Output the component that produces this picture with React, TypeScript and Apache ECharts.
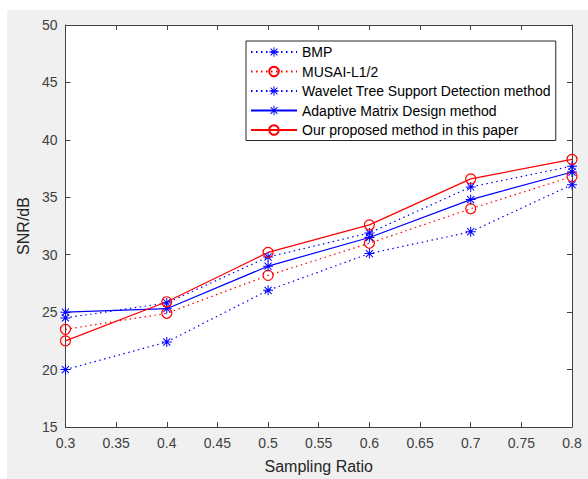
import React, { useEffect, useRef } from "react";
import * as echarts from "echarts";

const xValues = [0.3, 0.4, 0.5, 0.6, 0.7, 0.8];
const seriesNames = [
  "BMP",
  "MUSAI-L1/2",
  "Wavelet Tree Support Detection method",
  "Adaptive Matrix Design method",
  "Our proposed method in this paper",
];
const bmp = [20.0, 22.4, 26.9, 30.1, 32.0, 36.1];
const musai = [23.5, 24.9, 28.2, 31.0, 34.0, 36.8];
const wavelet = [24.5, 25.8, 29.8, 31.9, 35.9, 37.7];
const adaptive = [25.0, 25.3, 29.0, 31.5, 34.8, 37.2];
const ours = [22.5, 25.9, 30.2, 32.6, 36.6, 38.3];

const ASTERISK =
  "path://M9 0L11 0L11 20L9 20Z M0 9L20 9L20 11L0 11Z " +
  "M3.64 2.22L17.78 16.36L16.36 17.78L2.22 3.64Z " +
  "M16.36 2.22L17.78 3.64L3.64 17.78L2.22 16.36Z";

const FONT = "'Liberation Sans', Arial, Helvetica, sans-serif";
const AXIS = "#404040";

function pairs(vals: number[]) {
  return xValues.map((x, i) => [x, vals[i]]);
}

export default function App() {
  const ref = useRef<HTMLDivElement>(null);
  useEffect(() => {
    if (!ref.current) return;
    const chart = echarts.init(ref.current, undefined, { renderer: "svg" });
    const blue = "#0000ff";
    const red = "#ff0000";
    const dotted: any = [1.5, 3.5];
    const mk = (name: string, data: number[], color: string, star: boolean, dot: boolean) => ({
      name,
      type: "line",
      data: pairs(data),
      symbol: star ? ASTERISK : "circle",
      symbolSize: star ? 10 : 10,
      showSymbol: true,
      itemStyle: star
        ? { color, borderWidth: 0 }
        : { color: "rgba(0,0,0,0)", borderColor: color, borderWidth: 1.2 },
      lineStyle: { color, width: 1.2, type: dot ? dotted : "solid" },
      emphasis: { disabled: true },
    });
    const xTickFmt = (v: number) => String(parseFloat(v.toFixed(2)));
    chart.setOption({
      animation: false,
      backgroundColor: "#f0f0f0",
      textStyle: { fontFamily: FONT },
      grid: {
        left: 57,
        top: 15,
        right: 16,
        bottom: 52,
        show: true,
        backgroundColor: "#ffffff",
        borderWidth: 0,
      },
      legend: {
        orient: "vertical",
        left: 239,
        top: 31,
        backgroundColor: "#ffffff",
        borderColor: "#262626",
        borderWidth: 1,
        borderRadius: 0,
        padding: [4, 5, 3.5, 4],
        itemWidth: 46,
        itemHeight: 12,
        itemGap: 5.5,
        selectedMode: false,
        textStyle: { fontSize: 14, color: "#000000", fontFamily: FONT, lineHeight: 14 },
        data: seriesNames,
      },
      xAxis: [
        {
          type: "value",
          min: 0.3,
          max: 0.8,
          interval: 0.05,
          name: "Sampling Ratio",
          nameLocation: "middle",
          nameGap: 31,
          nameTextStyle: { fontSize: 16, color: "#262626", fontFamily: FONT },
          axisLine: { show: true, lineStyle: { color: AXIS, width: 1 } },
          axisTick: { show: true, inside: true, length: 5, lineStyle: { color: AXIS } },
          axisLabel: { fontSize: 14, color: "#404040", margin: 9, formatter: xTickFmt, fontFamily: FONT },
          splitLine: { show: false },
        },
        {
          type: "value",
          position: "top",
          min: 0.3,
          max: 0.8,
          interval: 0.05,
          axisLine: { show: true, lineStyle: { color: AXIS, width: 1 } },
          axisTick: { show: true, inside: true, length: 5, lineStyle: { color: AXIS } },
          axisLabel: { show: false },
          splitLine: { show: false },
        },
      ],
      yAxis: [
        {
          type: "value",
          min: 15,
          max: 50,
          interval: 5,
          name: "SNR/dB",
          nameLocation: "middle",
          nameGap: 28,
          nameTextStyle: { fontSize: 16, color: "#262626", fontFamily: FONT },
          axisLine: { show: true, lineStyle: { color: AXIS, width: 1 } },
          axisTick: { show: true, inside: true, length: 5, lineStyle: { color: AXIS } },
          axisLabel: { fontSize: 14, color: "#404040", margin: 8, fontFamily: FONT },
          splitLine: { show: false },
        },
        {
          type: "value",
          position: "right",
          min: 15,
          max: 50,
          interval: 5,
          axisLine: { show: true, lineStyle: { color: AXIS, width: 1 } },
          axisTick: { show: true, inside: true, length: 5, lineStyle: { color: AXIS } },
          axisLabel: { show: false },
          splitLine: { show: false },
        },
      ],
      series: [
        mk(seriesNames[0], bmp, blue, true, true),
        mk(seriesNames[1], musai, red, false, true),
        mk(seriesNames[2], wavelet, blue, true, true),
        mk(seriesNames[3], adaptive, blue, true, false),
        mk(seriesNames[4], ours, red, false, false),
      ],
    });
    return () => chart.dispose();
  }, []);
  return (
    <div style={{ position: "absolute", left: 0, top: 0, width: 588, height: 479, background: "#ffffff" }}>
      <div
        ref={ref}
        style={{ position: "absolute", left: 7, top: 10, width: 581, height: 469 }}
      />
    </div>
  );
}
